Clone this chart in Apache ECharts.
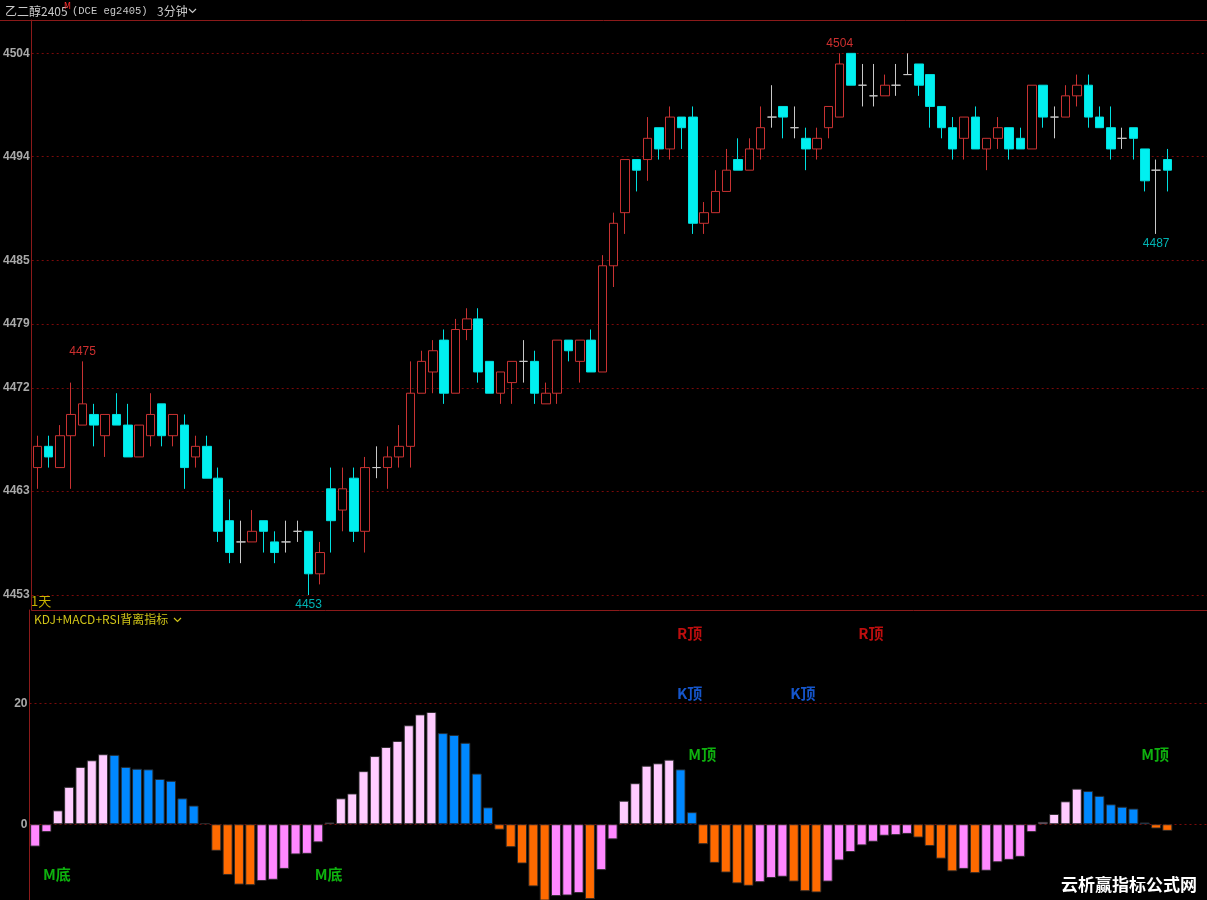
<!DOCTYPE html>
<html><head><meta charset="utf-8">
<script src="https://cdn.jsdelivr.net/npm/echarts@6/dist/echarts.min.js"></script>
<style>html,body{margin:0;padding:0;background:#000;}#c{width:1207px;height:900px;}</style>
</head><body><div id="c"></div>
<script>
// ---------- data ----------
const opens  = [4465,4467,4465,4468,4469,4470,4468,4470,4469,4466,4468,4471,4468,4469,4466,4467,4464,4460,4458,4458,4460,4458,4458,4459,4459,4455,4463,4461,4464,4459,4465,4465,4466,4467,4472,4474,4477,4472,4478,4479,4475,4472,4473,4475,4475,4471,4472,4477,4475,4477,4474,4484,4489,4494,4494,4497,4495,4498,4498,4488,4489,4491,4494,4493,4495,4498,4499,4497,4496,4495,4497,4498,4504,4501,4500,4500,4501,4502,4503,4502,4499,4497,4496,4498,4495,4496,4497,4496,4495,4501,4498,4498,4500,4501,4498,4497,4496,4497,4495,4493,4494];
const closes = [4467,4466,4468,4470,4471,4469,4470,4469,4466,4469,4470,4468,4470,4465,4467,4464,4459,4457,4458,4459,4459,4457,4458,4459,4455,4457,4460,4463,4459,4465,4465,4466,4467,4472,4475,4476,4472,4478,4479,4474,4472,4474,4475,4475,4472,4472,4477,4476,4477,4474,4484,4488,4494,4493,4496,4495,4498,4497,4488,4489,4491,4493,4493,4495,4497,4498,4498,4497,4495,4496,4499,4503,4501,4501,4500,4501,4501,4502,4501,4499,4497,4495,4498,4495,4496,4497,4495,4495,4501,4498,4498,4500,4501,4498,4497,4495,4496,4496,4492,4493,4493];
const lows   = [4463,4465,4465,4463,4469,4467,4466,4469,4466,4466,4467,4467,4467,4463,4465,4464,4458,4456,4456,4458,4457,4456,4457,4458,4453,4454,4457,4459,4458,4457,4464,4463,4465,4465,4472,4472,4471,4472,4477,4473,4472,4471,4471,4473,4471,4471,4471,4475,4473,4474,4474,4482,4487,4491,4492,4494,4494,4495,4487,4487,4489,4491,4493,4493,4494,4497,4496,4496,4493,4494,4496,4498,4501,4499,4499,4500,4500,4502,4500,4497,4496,4494,4494,4495,4493,4495,4494,4495,4495,4497,4496,4498,4499,4497,4497,4494,4495,4494,4491,4487,4491];
const highs  = [4468,4468,4469,4473,4475,4471,4470,4472,4471,4469,4472,4471,4470,4470,4468,4468,4465,4462,4460,4461,4460,4459,4460,4460,4459,4458,4465,4465,4465,4466,4467,4467,4469,4475,4476,4477,4478,4479,4480,4480,4475,4474,4475,4477,4476,4473,4477,4477,4477,4478,4485,4489,4494,4494,4498,4497,4499,4498,4499,4490,4493,4495,4496,4496,4499,4501,4499,4499,4497,4497,4499,4504,4504,4503,4503,4502,4503,4504,4503,4502,4499,4498,4498,4499,4496,4498,4497,4497,4501,4501,4499,4501,4502,4502,4499,4499,4497,4497,4495,4494,4495];
const macd = [-3.7,-1.3,2.3,6.2,9.5,10.6,11.6,11.5,9.5,9.2,9.1,7.5,7.2,4.3,3.1,0.2,-4.4,-8.4,-10.0,-10.1,-9.4,-9.2,-7.4,-5.0,-4.9,-3.0,0.3,4.3,5.1,8.8,11.3,12.8,13.8,16.4,18.2,18.6,15.1,14.8,13.5,8.4,2.8,-0.9,-3.8,-6.5,-10.3,-13.0,-11.9,-11.8,-11.4,-12.4,-7.6,-2.5,3.9,6.8,9.7,10.1,10.7,9.1,2.0,-3.3,-6.4,-8.0,-9.8,-10.2,-9.6,-8.9,-8.7,-9.5,-11.1,-11.3,-9.5,-6.0,-4.6,-3.5,-2.9,-1.9,-1.8,-1.6,-2.2,-3.6,-5.7,-7.8,-7.4,-8.1,-7.7,-6.3,-5.9,-5.4,-1.3,0.4,1.7,3.8,5.9,5.5,4.7,3.3,2.9,2.6,0.3,-0.7,-1.1];
const priceTicks = [4453, 4462.8, 4472.5, 4478.5, 4484.5, 4494.3, 4504];
const priceTickLabels = ['4453','4463','4472','4479','4485','4494','4504'];
const macdTicks = [0, 20];
const highMarks = [[4, 4475], [71, 4504]];
const lowMarks  = [[24, 4453], [99, 4487]];
const rTop    = [[57, 31.6], [73, 31.6]];
const kTop    = [[57, 21.6], [67, 21.6]];
const mTop    = [[58, 11.5], [98, 11.5]];
const mBottom = [[1, -8.4], [25, -8.4]];
const slotCount = 104; // 101 bars plus empty space on the right
// ----------------------------------------------------

const cats = [];
for (let i = 0; i < slotCount; i++) cats.push(String(i));
const candles = opens.map((o, i) => [o, closes[i], lows[i], highs[i]]);

const macdData = macd.map((v, i) => {
  const prev = i > 0 ? macd[i - 1] : v - 1;
  let color;
  if (v >= 0) color = v >= prev ? '#ffccff' : '#0088ff';
  else color = v <= prev ? '#ff6a00' : '#ff88ff';
  return { value: v, itemStyle: { color: color } };
});

const frame = '#8b1a1a';
const dotted = { color: '#7a0a0a', type: [2, 3], width: 1 };

function signalSeries(data, text, color) {
  return {
    type: 'scatter', xAxisIndex: 1, yAxisIndex: 1, data: data,
    symbolSize: 1, itemStyle: { color: 'rgba(0,0,0,0)' }, silent: true, z: 5,
    label: { show: true, position: [-3, 0], align: 'left', verticalAlign: 'middle',
      formatter: () => text, color: color, fontSize: 15, fontWeight: 'bold',
      fontFamily: '"Noto Sans CJK SC", Arial, sans-serif' }
  };
}
function priceMark(data, pos, color) {
  return {
    type: 'scatter', xAxisIndex: 0, yAxisIndex: 0, data: data,
    symbolSize: 1, itemStyle: { color: 'rgba(0,0,0,0)' }, silent: true, z: 5,
    label: { show: true, position: pos, distance: 3, color: color, fontSize: 12,
      fontFamily: 'Arial, "Liberation Sans", sans-serif',
      formatter: p => String(p.value[1]) }
  };
}

const chart = echarts.init(document.getElementById('c'), null, { renderer: 'canvas' });
chart.setOption({
  backgroundColor: '#000',
  animation: false,
  grid: [
    { left: 29.5, right: 0, top: 20, height: 590 },
    { left: 29.5, right: 0, top: 610, height: 290 }
  ],
  xAxis: [
    { type: 'category', gridIndex: 0, data: cats, boundaryGap: true,
      axisLine: { show: true, lineStyle: { color: frame } }, axisTick: { show: false },
      axisLabel: { show: false }, splitLine: { show: false } },
    { type: 'category', gridIndex: 1, data: cats, boundaryGap: true,
      axisLine: { show: false }, axisTick: { show: false }, axisLabel: { show: false }, splitLine: { show: false } }
  ],
  yAxis: [
    { type: 'value', gridIndex: 0, min: 4451.59, max: 4507.14, scale: true,
      axisLine: { show: true, lineStyle: { color: frame } },
      axisTick: { show: false, customValues: priceTicks },
      axisLabel: { customValues: priceTicks, margin: 2, color: '#a9a9a9', fontSize: 12, fontWeight: 'bold',
        fontFamily: 'Arial, "Liberation Sans", sans-serif',
        formatter: v => {
          let best = 0;
          priceTicks.forEach((t, i) => { if (Math.abs(t - v) < Math.abs(priceTicks[best] - v)) best = i; });
          return priceTickLabels[best];
        } },
      splitLine: { show: true, lineStyle: dotted } },
    { type: 'value', gridIndex: 1, min: -12.55, max: 35.5,
      axisLine: { show: true, lineStyle: { color: frame } },
      axisTick: { show: false, customValues: macdTicks },
      axisLabel: { customValues: macdTicks, margin: 2, color: '#a9a9a9', fontSize: 12, fontWeight: 'bold',
        fontFamily: 'Arial, "Liberation Sans", sans-serif' },
      splitLine: { show: true, lineStyle: dotted } }
  ],
  series: [
    { type: 'candlestick', xAxisIndex: 0, yAxisIndex: 0, data: candles, barWidth: 9,
      itemStyle: { color: '#000', color0: '#00f0f0', borderColor: '#c83232', borderColor0: '#00e0e0',
        borderColorDoji: '#c8c8c8', borderWidth: 1 } },
    priceMark(highMarks, 'top', '#ff3b3b'),
    priceMark(lowMarks, 'bottom', '#00dede'),
    { type: 'bar', xAxisIndex: 1, yAxisIndex: 1, data: macdData, barWidth: 10,
      itemStyle: { borderColor: 'rgba(40,40,40,0.9)', borderWidth: 1 } },
    signalSeries(rTop, 'R顶', '#ee1111'),
    signalSeries(kTop, 'K顶', '#1a6cff'),
    signalSeries(mTop, 'M顶', '#11dd11'),
    signalSeries(mBottom, 'M底', '#11dd11')
  ],
  graphic: [
    { type: 'line', shape: { x1: 0, y1: 20.5, x2: 1207, y2: 20.5 }, style: { stroke: frame, lineWidth: 1 }, z: 10 },
    { type: 'text', x: 5, y: 11, style: { text: '乙二醇2405', fill: '#c8c8c8', font: '12px "Noto Sans CJK SC"', verticalAlign: 'middle' } },
    { type: 'text', x: 64, y: 7, style: { text: 'M', fill: '#ff3030', font: '8px "DejaVu Sans"', verticalAlign: 'middle' } },
    { type: 'text', x: 72, y: 11, style: { text: '(DCE eg2405)', fill: '#c8c8c8', font: '10.5px "Liberation Mono", monospace', verticalAlign: 'middle' } },
    { type: 'text', x: 157, y: 11, style: { text: '3分钟', fill: '#c8c8c8', font: '12px "Noto Sans CJK SC"', verticalAlign: 'middle' } },
    { type: 'polyline', shape: { points: [[189, 9], [192.5, 12.5], [196, 9]] }, style: { stroke: '#c8c8c8', lineWidth: 1.2, fill: null } },
    { type: 'text', x: 31, y: 601, style: { text: '1天', fill: '#c8b400', font: '13px "Noto Sans CJK SC"', verticalAlign: 'middle' } },
    { type: 'text', x: 34, y: 619, style: { text: 'KDJ+MACD+RSI背离指标', fill: '#d0c418', font: '12px "Noto Sans CJK SC"', verticalAlign: 'middle' } },
    { type: 'polyline', shape: { points: [[174, 618], [177.5, 621.5], [181, 618]] }, style: { stroke: '#d0c418', lineWidth: 1.2, fill: null } },
    { type: 'text', x: 1061, y: 885, style: { text: '云析赢指标公式网', fill: '#ffffff', font: 'bold 17px "Noto Sans CJK SC"', verticalAlign: 'middle' } }
  ]
});
</script>
</body></html>
